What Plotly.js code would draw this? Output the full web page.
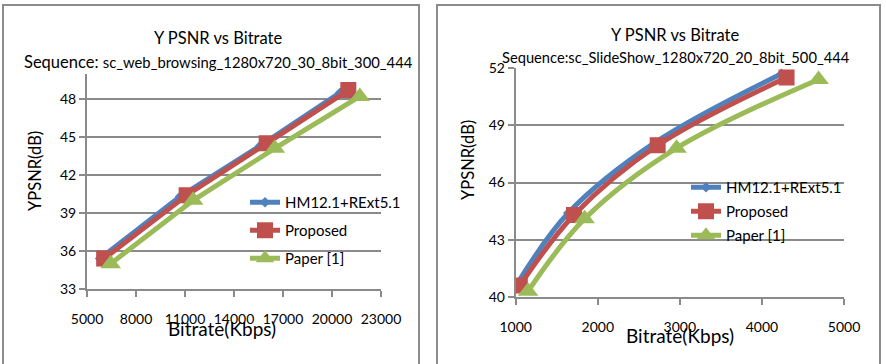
<!DOCTYPE html>
<html>
<head>
<meta charset="utf-8">
<script src="https://cdn.plot.ly/plotly-3.0.1.min.js"></script>
<style>html,body{margin:0;padding:0;background:#fff;}#chart{width:886px;height:364px;}</style>
</head>
<body>
<div id="chart"></div>
<script>
// ---- Data: left chart (sc_web_browsing) ----
const seriesNames = ["HM12.1+RExt5.1", "Proposed", "Paper [1]"];
const webHM_rate = [5800, 10700, 15600, 20500];
const webHM_psnr = [35.4, 40.3, 44.3, 48.5];
const webProp_rate = [6050, 11100, 16000, 21000];
const webProp_psnr = [35.4, 40.4, 44.5, 48.7];
const webPaper_rate = [6450, 11500, 16500, 21700];
const webPaper_psnr = [35.0, 40.0, 44.1, 48.2];

// ---- Data: right chart (sc_SlideShow) ----
const slideHM_rate = [990, 1640, 2700, 4240];
const slideHM_psnr = [40.5, 44.4, 48.1, 51.7];
const slideProp_rate = [1050, 1710, 2730, 4300];
const slideProp_psnr = [40.6, 44.3, 47.95, 51.5];
const slidePaper_rate = [1150, 1840, 2960, 4690];
const slidePaper_psnr = [40.3, 44.1, 47.8, 51.4];

// tick labels
const webXTicks = [5000, 8000, 11000, 14000, 17000, 20000, 23000];
const webYTicks = [33, 36, 39, 42, 45, 48];
const slideXTicks = [1000, 2000, 3000, 4000, 5000];
const slideYTicks = [40, 43, 46, 49, 52];

const titleMain = "Y PSNR vs Bitrate";
const seqLeft = "sc_web_browsing_1280x720_30_8bit_300_444";
const seqRight = "Sequence:sc_SlideShow_1280x720_20_8bit_500_444";
const xTitle = "Bitrate(Kbps)";
const yTitle = "YPSNR(dB)";

const colors = ["#4F81BD", "#C0504D", "#9BBB59"];
const symbols = ["diamond", "square", "triangle-up"];
const msizes = [8, 16, 18];
const FONT = "Lato, 'Open Sans', sans-serif";

function mk(x, y, i, xa, ya, legend, shape) {
  return {
    x: x, y: y, name: seriesNames[i], type: "scatter", mode: "lines+markers",
    xaxis: xa, yaxis: ya, legend: legend, legendgroup: legend + i,
    line: {color: colors[i], width: 5, shape: shape, smoothing: 1},
    marker: {color: colors[i], symbol: symbols[i], size: msizes[i]}
  };
}

const data = [
  mk(webHM_rate, webHM_psnr, 0, "x", "y", "legend", "linear"),
  mk(webProp_rate, webProp_psnr, 1, "x", "y", "legend", "linear"),
  mk(webPaper_rate, webPaper_psnr, 2, "x", "y", "legend", "linear"),
  mk(slideHM_rate, slideHM_psnr, 0, "x2", "y2", "legend2", "spline"),
  mk(slideProp_rate, slideProp_psnr, 1, "x2", "y2", "legend2", "spline"),
  mk(slidePaper_rate, slidePaper_psnr, 2, "x2", "y2", "legend2", "spline")
];

const W = 886, H = 364;
const px = v => v / W;
const py = v => 1 - v / H;

const gridC = "#8a8a8a";
function xax(domain, range, ticks) {
  return {
    domain: domain, range: range, tickvals: ticks, ticktext: ticks.map(String),
    showgrid: false, zeroline: false, showline: true, linecolor: gridC, linewidth: 2,
    ticks: "outside", ticklen: 6, tickwidth: 2, tickcolor: gridC,
    ticklabelstandoff: 10,
    tickfont: {family: FONT, size: 14, color: "#000"}, fixedrange: true
  };
}
function yax(domain, range, ticks, xa) {
  return {
    domain: domain, range: range, tickvals: ticks, ticktext: ticks.map(String),
    showgrid: true, gridcolor: gridC, gridwidth: 2, zeroline: false,
    showline: true, linecolor: gridC, linewidth: 2,
    ticks: "outside", ticklen: 6, tickwidth: 2, tickcolor: gridC,
    tickfont: {family: FONT, size: 14, color: "#000"}, anchor: xa, fixedrange: true
  };
}

const layout = {
  width: W, height: H, margin: {l: 0, r: 0, t: 0, b: 0},
  paper_bgcolor: "#fff", plot_bgcolor: "#fff",
  font: {family: FONT, color: "#000"},
  showlegend: true,
  xaxis: xax([px(87), px(381)], [5000, 23000], webXTicks),
  yaxis: yax([py(289), py(73.6)], [33, 50], webYTicks, "x"),
  xaxis2: Object.assign(xax([px(515.7), px(844)], [1000, 5000], slideXTicks), {anchor: "y2"}),
  yaxis2: yax([py(297), py(68)], [40, 52], slideYTicks, "x2"),
  legend: {
    x: px(245), y: py(186), xanchor: "left", yanchor: "top", bgcolor: "rgba(0,0,0,0)",
    font: {family: FONT, size: 15, color: "#000"}, traceorder: "grouped", tracegroupgap: 5.5,
    itemwidth: 30
  },
  legend2: {
    x: px(686), y: py(171), xanchor: "left", yanchor: "top", bgcolor: "rgba(0,0,0,0)",
    font: {family: FONT, size: 15, color: "#000"}, traceorder: "grouped", tracegroupgap: 1.5,
    itemwidth: 30
  },
  shapes: [
    {type: "rect", xref: "paper", yref: "paper", x0: px(3), x1: px(419), y0: py(370), y1: py(5),
     line: {color: "#8c8c8c", width: 2}},
    {type: "rect", xref: "paper", yref: "paper", x0: px(437), x1: px(880), y0: py(370), y1: py(5),
     line: {color: "#8c8c8c", width: 2}}
  ],
  annotations: [
    {xref: "paper", yref: "paper", x: px(218), y: py(38), text: titleMain, showarrow: false,
     font: {family: FONT, size: 16.5}, xanchor: "center", yanchor: "middle"},
    {xref: "paper", yref: "paper", x: px(218), y: py(62),
     text: 'Sequence: <span style="font-size:14.8px">' + seqLeft + '</span>', showarrow: false,
     font: {family: FONT, size: 16.5}, xanchor: "center", yanchor: "middle"},
    {xref: "paper", yref: "paper", x: px(675), y: py(35), text: titleMain, showarrow: false,
     font: {family: FONT, size: 16.5}, xanchor: "center", yanchor: "middle"},
    {xref: "paper", yref: "paper", x: px(676), y: py(57), text: seqRight, showarrow: false,
     font: {family: FONT, size: 14.7}, xanchor: "center", yanchor: "middle"},
    {xref: "paper", yref: "paper", x: px(222), y: py(328), text: xTitle, showarrow: false,
     font: {family: FONT, size: 19}, xanchor: "center", yanchor: "middle"},
    {xref: "paper", yref: "paper", x: px(680), y: py(335), text: xTitle, showarrow: false,
     font: {family: FONT, size: 19}, xanchor: "center", yanchor: "middle"},
    {xref: "paper", yref: "paper", x: px(35), y: py(171), text: yTitle, showarrow: false,
     textangle: -90, font: {family: FONT, size: 16.5}, xanchor: "center", yanchor: "middle"},
    {xref: "paper", yref: "paper", x: px(468), y: py(160), text: yTitle, showarrow: false,
     textangle: -90, font: {family: FONT, size: 16.5}, xanchor: "center", yanchor: "middle"}
  ]
};

Plotly.newPlot("chart", data, layout, {staticPlot: true, displayModeBar: false});
</script>
</body>
</html>
